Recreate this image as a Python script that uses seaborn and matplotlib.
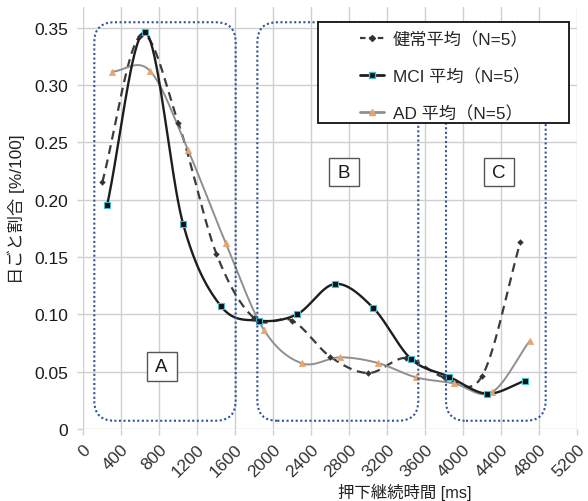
import numpy as np
import pandas as pd
import seaborn as sns
import matplotlib
matplotlib.use("Agg")
import matplotlib.pyplot as plt
import matplotlib.transforms as mtransforms
from matplotlib.patches import FancyBboxPatch, Rectangle
from matplotlib.lines import Line2D

# ---------------- data ----------------
healthy_label = "健常平均（N=5）"
mci_label = "MCI 平均（N=5）"
ad_label = "AD 平均（N=5）"

healthy_x = [200, 600, 1000, 1400, 1800, 2200, 2600, 3000, 3400, 3800, 4200, 4600]
healthy_y = [0.215, 0.343, 0.267, 0.153, 0.0965, 0.0945, 0.063, 0.0488, 0.062, 0.045, 0.0465, 0.163]

mci_x = [250, 650, 1050, 1450, 1850, 2250, 2650, 3050, 3450, 3850, 4250, 4650]
mci_y = [0.195, 0.346, 0.179, 0.107, 0.0945, 0.100, 0.1265, 0.1058, 0.061, 0.0456, 0.0308, 0.0421]

ad_x = [300, 700, 1100, 1500, 1900, 2300, 2700, 3100, 3500, 3900, 4300, 4700]
ad_y = [0.3116, 0.3125, 0.2436, 0.162, 0.0866, 0.0573, 0.0625, 0.0576, 0.0451, 0.0398, 0.032, 0.077]

x_ticks = [0, 400, 800, 1200, 1600, 2000, 2400, 2800, 3200, 3600, 4000, 4400, 4800, 5200]
y_ticks = [0, 0.05, 0.10, 0.15, 0.20, 0.25, 0.30, 0.35]
y_tick_labels = ["0", "0.05", "0.10", "0.15", "0.20", "0.25", "0.30", "0.35"]

region_names = ["A", "B", "C"]
# region extents (x0, x1, y0, y1) in data units
region_boxes = [(116, 1604, 0.0072, 0.3547), (1832, 3526, 0.0072, 0.3547), (3818, 4867, 0.0072, 0.3547)]
region_label_pos = [(825, 0.0545), (2744, 0.224), (4376, 0.224)]

x_label = "押下継続時間 [ms]"
y_label = "日ごと割合 [%/100]"


def smooth(xs, ys, n=40):
    P = np.column_stack([xs, ys]).astype(float)
    N = len(P)
    out = []
    for i in range(N - 1):
        p0, p1 = P[i], P[i + 1]
        m0 = (P[i + 1] - P[i - 1]) / 2 if i > 0 else (P[1] - P[0])
        m1 = (P[i + 2] - P[i]) / 2 if i + 2 < N else (P[N - 1] - P[N - 2])
        t = np.linspace(0, 1, n, endpoint=(i == N - 2))[:, None]
        h00 = 2 * t**3 - 3 * t**2 + 1
        h10 = t**3 - 2 * t**2 + t
        h01 = -2 * t**3 + 3 * t**2
        h11 = t**3 - t**2
        out.append(h00 * p0 + h10 * m0 + h01 * p1 + h11 * m1)
    return np.vstack(out)


sns.set_theme(style="white")
plt.rcParams["font.family"] = ["Liberation Sans", "Noto Sans CJK JP", "DejaVu Sans"]

W, H = 588, 502
fig = plt.figure(figsize=(W / 100, H / 100), dpi=100)
ax = fig.add_axes([83.3 / W, 72 / H, 494 / W, 422 / H])

ax.set_xlim(0, 5200)
ax.set_ylim(0, 0.368)
ax.set_xticks(x_ticks)
ax.set_yticks(y_ticks)
ax.set_yticklabels(y_tick_labels)
ax.grid(True, color="#cfcfcf", lw=1.0)
ax.set_axisbelow(True)
for s in ax.spines.values():
    s.set_visible(False)
ax.tick_params(axis="both", length=4, width=1.0, color="#cfcfcf", labelsize=12.5)
ax.tick_params(axis="x", pad=5, labelcolor="#333333")
ax.tick_params(axis="y", pad=7, labelcolor="#1a1a1a")
ax.tick_params(bottom=True, left=True)
ax.set_xticklabels([str(v) for v in x_ticks], rotation=45, ha="right")
offset = mtransforms.ScaledTranslation(10 / 100, 0, fig.dpi_scale_trans)
for lab in ax.get_xticklabels():
    lab.set_transform(lab.get_transform() + offset)

# region boxes (dotted rounded rectangles)
for (x0, x1, y0, y1) in region_boxes:
    (fx0, fy0), (fx1, fy1) = fig.transFigure.inverted().transform(
        ax.transData.transform([(x0, y0), (x1, y1)]))
    patch = FancyBboxPatch((fx0, fy0), fx1 - fx0, fy1 - fy0,
                           boxstyle="round,pad=0,rounding_size=%f" % (20 / W),
                           mutation_aspect=W / H, transform=fig.transFigure,
                           fill=False, ec="#2f5496", lw=1.5,
                           ls=(0, (1, 1.2)), zorder=1.5)
    fig.add_artist(patch)

# curves
series = [
    (healthy_x, healthy_y, dict(color="#3c3c3c", lw=1.6, ls=(0, (4.0, 2.6))),
     dict(marker="D", s=9, color="#333333", edgecolor="#333333")),
    (ad_x, ad_y, dict(color="#8f8f8f", lw=1.4, ls="-"),
     dict(marker="^", s=22, color="#e8a46e", edgecolor="#e8a46e")),
    (mci_x, mci_y, dict(color="#1e1e1e", lw=1.7, ls="-"),
     dict(marker="s", s=16, color="#111111", edgecolor="#4cb6cc", linewidth=0.8)),
]
for xs, ys, lkw, mkw in series:
    pts = smooth(xs, ys)
    df = pd.DataFrame({"x": pts[:, 0], "y": pts[:, 1]})
    sns.lineplot(data=df, x="x", y="y", ax=ax, sort=False, estimator=None,
                 zorder=3, **lkw)
    sns.scatterplot(x=xs, y=ys, ax=ax, zorder=4, **mkw)

ax.set_xlabel(x_label, fontsize=11.8, color="#222222")
ax.set_ylabel(y_label, fontsize=12.4, color="#222222")
ax.xaxis.set_label_coords(0.651, -0.128)
ax.yaxis.set_label_coords(-0.119, 0.524)

# region labels
for name, (lx, ly) in zip(region_names, region_label_pos):
    px, py = ax.transData.transform((lx, ly))
    fx, fy = fig.transFigure.inverted().transform((px, py))
    fig.add_artist(Rectangle((fx - 15 / W, fy - 14 / H), 30 / W, 28.5 / H,
                             transform=fig.transFigure, fc="white", ec="#555555",
                             lw=1.0, zorder=5))
    fig.text(fx, fy, name, fontsize=13.5, ha="center", va="center",
             color="#1a1a1a", zorder=6)

# legend
fig.add_artist(Rectangle((318.3 / W, 1 - 123.7 / H), (569.3 - 318.3) / W, (123.7 - 22.7) / H,
                         transform=fig.transFigure, fc="white", ec="#111111",
                         lw=1.3, zorder=7))
handles = [
    Line2D([], [], color="#3c3c3c", lw=1.6, ls=(0, (2.5, 1.5)), marker="D", ms=3,
           mfc="#333333", mec="#333333"),
    Line2D([], [], color="#1e1e1e", lw=2.0, marker="s", ms=5, mfc="#111111", mec="#4cb6cc"),
    Line2D([], [], color="#8f8f8f", lw=2.0, marker="^", ms=5, mfc="#e8a46e", mec="#e8a46e"),
]
leg = fig.legend(handles, [healthy_label, mci_label, ad_label], loc="upper left",
                 bbox_to_anchor=(360 / W, 1 - 32 / H), frameon=False, fontsize=12.4,
                 handlelength=1.4, handletextpad=0.52, labelspacing=1.2,
                 borderpad=0, borderaxespad=0)
leg.set_zorder(8)

fig.savefig("out.png", dpi=100)
